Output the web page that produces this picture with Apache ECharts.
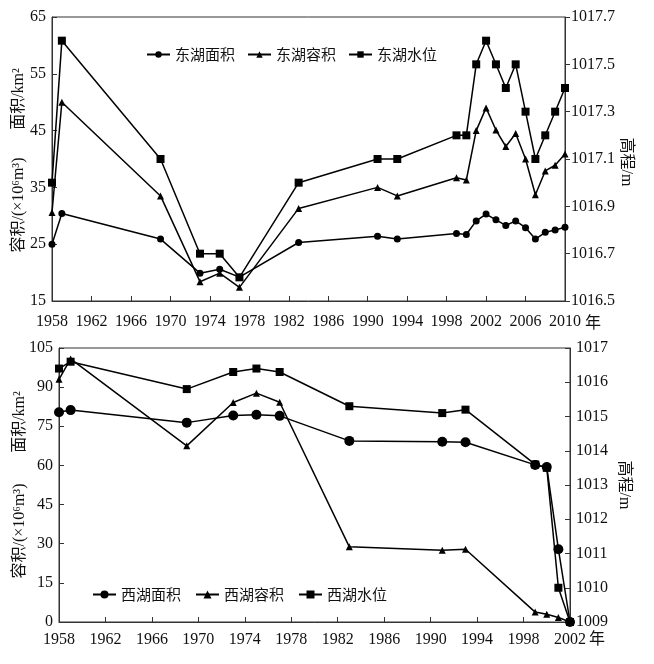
<!DOCTYPE html>
<html>
<head>
<meta charset="utf-8">
<script src="https://cdn.jsdelivr.net/npm/echarts@6/dist/echarts.min.js"></script>
<style>
html,body{margin:0;padding:0;background:#fff;}
#chart{width:654px;height:664px;}
</style>
</head>
<body>
<div id="chart"></div>
<script>
// ---- East lake (top panel) ----
const eastYears  = [1958,1959,1969,1973,1975,1977,1983,1991,1993,1999,2000,2001,2002,2003,2004,2005,2006,2007,2008,2009,2010];
const eastArea   = [25.0,30.4,25.9,19.9,20.6,19.2,25.3,26.4,25.9,26.9,26.7,29.1,30.3,29.3,28.3,29.1,27.9,25.9,27.1,27.5,28.0];
const eastVolume = [30.6,50.0,33.5,18.4,19.9,17.4,31.3,35.0,33.5,36.7,36.3,45.0,49.0,45.1,42.2,44.5,40.0,33.7,37.9,38.9,40.9];
const eastLevel  = [1017.0,1017.6,1017.1,1016.7,1016.7,1016.6,1017.0,1017.1,1017.1,1017.2,1017.2,1017.5,1017.6,1017.5,1017.4,1017.5,1017.3,1017.1,1017.2,1017.3,1017.4];
const eastNames  = ['东湖面积','东湖容积','东湖水位'];

// ---- West lake (bottom panel) ----
const westYears  = [1958,1959,1969,1973,1975,1977,1983,1991,1993,1999,2000,2001,2002];
const westArea   = [80.4,81.2,76.4,79.1,79.4,79.0,69.4,69.1,68.9,60.2,59.4,27.9,0];
const westVolume = [93.0,100.8,67.5,84.1,87.7,84.2,28.8,27.5,27.9,3.8,3.0,1.7,0];
const westLevel  = [1016.4,1016.6,1015.8,1016.3,1016.4,1016.3,1015.3,1015.1,1015.2,1013.6,1013.5,1010.0,1009.0];
const westNames  = ['西湖面积','西湖容积','西湖水位'];

const leftName1 = '面积/km²';
const leftName2 = '容积/(×10⁶m³)';
const rightName = '高程/m';
const yearUnit = '年';

const pair = (xs, ys) => xs.map((x, i) => [x, ys[i]]);

const FONT = "'Liberation Serif','Noto Sans CJK SC',serif";
const CJK = "'Noto Sans CJK SC',sans-serif";
const AX = '#333';
const FS = 16;

function xAx(grid, min, max) {
  return {
    type: 'value', gridIndex: grid, min: min, max: max, interval: 4,
    axisLine: {show: true, lineStyle: {color: AX, width: 1}},
    axisTick: {show: true, inside: true, length: 5, lineStyle: {color: AX}},
    axisLabel: {color: '#111', fontFamily: FONT, fontSize: FS, margin: grid === 0 ? 13 : 10,
      formatter: v => String(v)},
    splitLine: {show: false}
  };
}
function yAx(grid, pos, min, max, interval, dec, inside) {
  return {
    type: 'value', gridIndex: grid, position: pos, min: min, max: max, interval: interval,
    axisLine: {show: true, onZero: false, lineStyle: {color: AX, width: 1}},
    axisTick: {show: true, inside: inside, length: 5, lineStyle: {color: AX}},
    axisLabel: {color: '#111', fontFamily: FONT, fontSize: FS, margin: 6,
      formatter: v => v.toFixed(dec)},
    splitLine: {show: false}
  };
}
function ser(name, xi, yi, data, symbol, size) {
  return {
    name: name, type: 'line', xAxisIndex: xi, yAxisIndex: yi, data: data,
    symbol: symbol, symbolSize: size, showSymbol: true, clip: false,
    lineStyle: {color: '#000', width: 1.5},
    itemStyle: {color: '#000'},
    animation: false
  };
}

const option = {
  backgroundColor: '#fff',
  animation: false,
  grid: [
    {left: 52, top: 17, width: 513, height: 284, show: true, borderColor: AX, borderWidth: 1},
    {left: 59, top: 348, width: 511, height: 274, show: true, borderColor: AX, borderWidth: 1}
  ],
  xAxis: [xAx(0, 1958, 2010), xAx(1, 1958, 2002)],
  yAxis: [
    yAx(0, 'left', 15, 65, 10, 0, true),
    yAx(0, 'right', 1016.5, 1017.7, 0.2, 1, false),
    yAx(1, 'left', 0, 105, 15, 0, true),
    yAx(1, 'right', 1009, 1017, 1, 0, true)
  ],
  legend: [
    {data: eastNames, left: 141, top: 42, itemWidth: 23, itemHeight: 8, itemGap: 12,
     textStyle: {fontFamily: CJK, fontSize: 15, color: '#111'}},
    {data: westNames, left: 87, top: 582, itemWidth: 23, itemHeight: 10, itemGap: 14,
     textStyle: {fontFamily: CJK, fontSize: 15, color: '#111'}}
  ],
  series: [
    ser(eastNames[0], 0, 0, pair(eastYears, eastArea), 'circle', 7),
    ser(eastNames[1], 0, 0, pair(eastYears, eastVolume), 'triangle', 7),
    ser(eastNames[2], 0, 1, pair(eastYears, eastLevel), 'rect', 8),
    ser(westNames[0], 1, 2, pair(westYears, westArea), 'circle', 10),
    ser(westNames[1], 1, 2, pair(westYears, westVolume), 'triangle', 7),
    ser(westNames[2], 1, 3, pair(westYears, westLevel), 'rect', 8)
  ],
  graphic: [
    {type: 'text', x: 19, y: 99, rotation: Math.PI / 2,
     style: {text: leftName1, font: FS + "px " + FONT, fill: '#111', textAlign: 'center', textVerticalAlign: 'middle'}},
    {type: 'text', x: 19, y: 205, rotation: Math.PI / 2,
     style: {text: leftName2, font: FS + "px " + FONT, fill: '#111', textAlign: 'center', textVerticalAlign: 'middle'}},
    {type: 'text', x: 626, y: 162, rotation: -Math.PI / 2,
     style: {text: rightName, font: FS + "px " + FONT, fill: '#111', textAlign: 'center', textVerticalAlign: 'middle'}},
    {type: 'text', x: 593, y: 324,
     style: {text: yearUnit, font: FS + "px " + FONT, fill: '#111', textAlign: 'center', textVerticalAlign: 'middle'}},
    {type: 'text', x: 20, y: 422, rotation: Math.PI / 2,
     style: {text: leftName1, font: FS + "px " + FONT, fill: '#111', textAlign: 'center', textVerticalAlign: 'middle'}},
    {type: 'text', x: 20, y: 531, rotation: Math.PI / 2,
     style: {text: leftName2, font: FS + "px " + FONT, fill: '#111', textAlign: 'center', textVerticalAlign: 'middle'}},
    {type: 'text', x: 624, y: 485, rotation: -Math.PI / 2,
     style: {text: rightName, font: FS + "px " + FONT, fill: '#111', textAlign: 'center', textVerticalAlign: 'middle'}},
    {type: 'text', x: 597, y: 640,
     style: {text: yearUnit, font: FS + "px " + FONT, fill: '#111', textAlign: 'center', textVerticalAlign: 'middle'}}
  ]
};

const chart = echarts.init(document.getElementById('chart'), null, {renderer: 'canvas'});
chart.setOption(option);
</script>
</body>
</html>
